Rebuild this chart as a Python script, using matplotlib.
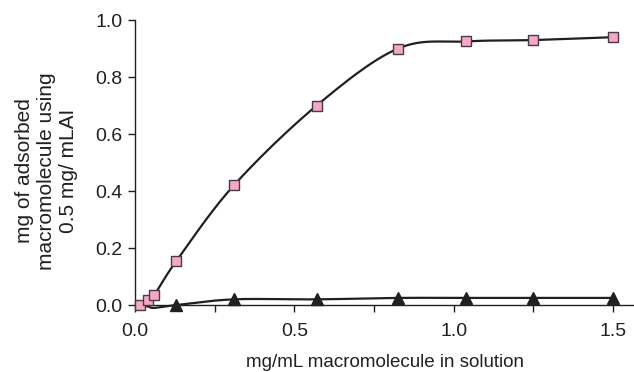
import numpy as np
import matplotlib.pyplot as plt

plt.rcParams['font.family'] = ['Liberation Sans', 'DejaVu Sans']

# data
conc = [0.016, 0.041, 0.06, 0.13, 0.31, 0.57, 0.825, 1.04, 1.25, 1.5]
adsorbed_a = [0.0, 0.018, 0.035, 0.155, 0.42, 0.70, 0.90, 0.925, 0.93, 0.94]
conc_b = [0.016, 0.041, 0.06, 0.13, 0.31, 0.57, 0.825, 1.04, 1.25, 1.5]
adsorbed_b = [0.0, -0.005, -0.01, 0.0, 0.02, 0.02, 0.025, 0.025, 0.025, 0.025]


def smooth(x, y, n=30):
    # Catmull-Rom curve through the points, like Excel's smoothed line
    p = np.column_stack([x, y])
    p = np.vstack([p[0], p, p[-1]])
    out = []
    for i in range(1, len(p) - 2):
        p0, p1, p2, p3 = p[i - 1], p[i], p[i + 1], p[i + 2]
        t = np.linspace(0, 1, n)[:, None]
        seg = 0.5 * ((2 * p1) + (-p0 + p2) * t + (2 * p0 - 5 * p1 + 4 * p2 - p3) * t ** 2
                     + (-p0 + 3 * p1 - 3 * p2 + p3) * t ** 3)
        out.append(seg)
    out = np.vstack(out)
    return out[:, 0], out[:, 1]


fig = plt.figure(figsize=(6.34, 3.72), dpi=100)
ax = fig.add_axes([0.213, 0.18, 0.787, 0.766])

sx, sy = smooth(conc_b, adsorbed_b)
ax.plot(sx, sy, color='#231f20', lw=1.6, clip_on=False, zorder=2)
ax.plot(conc_b[3:], adsorbed_b[3:], ls='none', marker='^', ms=8, color='#231f20',
        clip_on=False, zorder=3)

sx, sy = smooth(conc, adsorbed_a)
ax.plot(sx, sy, color='#231f20', lw=1.6, clip_on=False, zorder=4)
ax.plot(conc, adsorbed_a, ls='none', marker='s', ms=7, mfc='#f4a7c9', mec='#4a3a40',
        mew=1.0, clip_on=False, zorder=5)

ax.set_xlim(0, 1.566)
ax.set_ylim(0, 1.0)
ax.set_xticks([0, 0.5, 1.0, 1.5])
ax.set_xticklabels(['0.0', '0.5', '1.0', '1.5'])
ax.set_xticks([0.25, 0.75, 1.25], minor=True)
ax.set_yticks([0, 0.2, 0.4, 0.6, 0.8, 1.0])
ax.set_yticklabels(['0.0', '0.2', '0.4', '0.6', '0.8', '1.0'])
ax.tick_params(which='both', direction='out', length=5, width=1, labelsize=14,
               color='#231f20', labelcolor='#231f20')
ax.tick_params(axis='x', pad=8)
ax.tick_params(axis='y', pad=4)
ax.spines['top'].set_visible(False)
ax.spines['right'].set_visible(False)
for s in ['left', 'bottom']:
    ax.spines[s].set_color('#231f20')
    ax.spines[s].set_linewidth(1)

ax.set_xlabel('mg/mL macromolecule in solution', fontsize=13.5, color='#231f20', labelpad=10)
fig.text(47 / 634, 1 - 171 / 372, 'mg of adsorbed\nmacromolecule using\n0.5 mg/ mLAI',
         rotation=90, ha='center', va='center', multialignment='center',
         fontsize=15, color='#231f20', linespacing=1.2)

fig.savefig('out.png', dpi=100)
